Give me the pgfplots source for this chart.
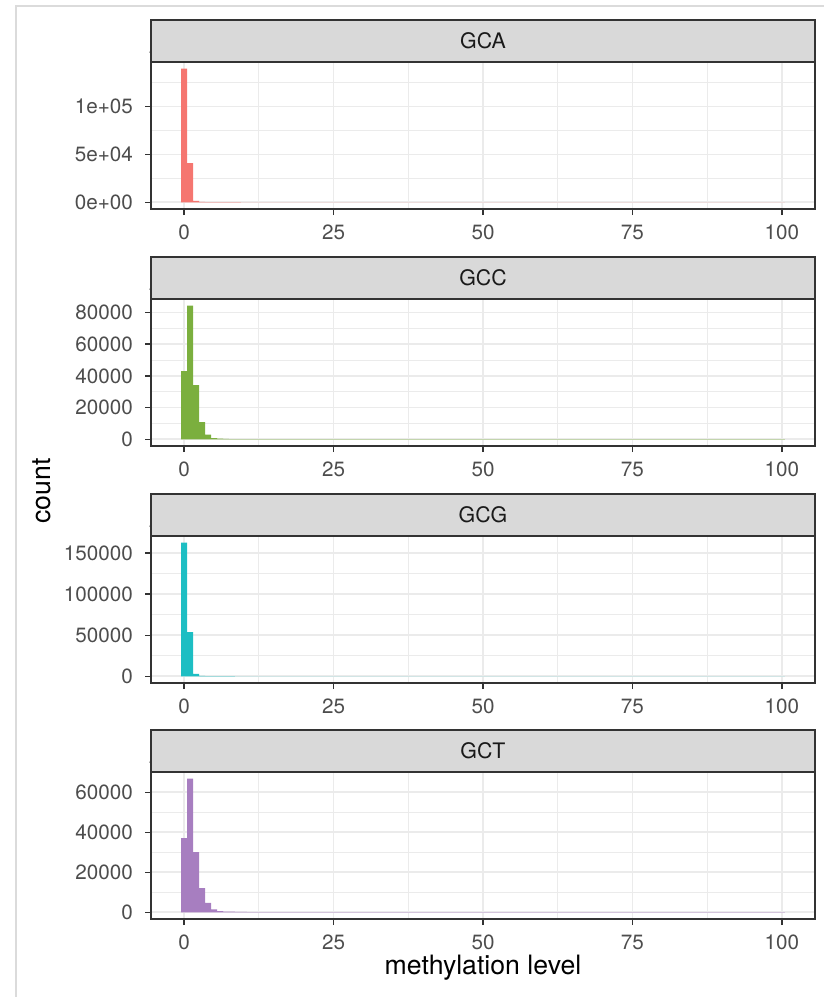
\documentclass[border=0pt]{standalone}
\usepackage{pgfplots}
\pgfplotsset{compat=1.18}
\usepackage{fontspec}
\setmainfont{TeX Gyre Heros}
\definecolor{gcaCol}{HTML}{F57670}
\definecolor{gccCol}{HTML}{7BAF3E}
\definecolor{gcgCol}{HTML}{1DBEC3}
\definecolor{gctCol}{HTML}{A77EC0}
\definecolor{grid92}{HTML}{EBEBEB}
\definecolor{g20}{HTML}{333333}
\definecolor{g30}{HTML}{4D4D4D}
\definecolor{g85}{HTML}{D9D9D9}
\definecolor{g10}{HTML}{1A1A1A}
\tikzset{
  strip/.style={g20, fill=g85, line width=1.1pt},
  striptext/.style={text=g10, font=\fontsize{16}{19}\selectfont},
}
\pgfplotsset{
  facet/.style={
    scale only axis, width=498pt, height=110.25pt,
    xmin=-5.55, xmax=105.55,
    axis line style={g20, line width=1.1pt},
    xtick={0,25,50,75,100}, xticklabels={0,25,50,75,100},
    minor xtick={12.5,37.5,62.5,87.5},
    grid=both,
    major grid style={grid92, line width=1.3pt},
    minor grid style={grid92, line width=0.65pt},
    tick align=outside, tick pos=left,
    major tick length=4.5pt, minor tick length=0pt,
    major tick style={g20, line width=1.1pt},
    tick label style={font=\fontsize{15.5}{18}\selectfont, text=g30},
    yticklabel style={xshift=-5.6pt},
    xticklabel style={yshift=-4.1pt},
    clip=false,
    anchor=south west,
  },
}
\begin{document}
\begin{tikzpicture}
\useasboundingbox (0pt,0pt) rectangle (618pt,-747.75pt);
\draw[gray!28, line width=0.8pt] (12pt,-747.75pt) -- (12pt,-4.5pt) -- (618pt,-4.5pt);

% GCA
\begin{axis}[facet, at={(113.25pt,-156.75pt)},
  ymin=-6975, ymax=146475,
  ytick={0,50000,100000}, yticklabels={0e+00,5e+04,1e+05},
  minor ytick={25000,75000,125000}]
\addplot[ybar interval, fill=gcaCol, draw=none] coordinates {
 (-0.5,139500) (0.5,40900) (1.5,1500) (2.5,500) (3.5,300) (4.5,220)
 (5.5,180) (6.5,150) (7.5,120) (8.5,100) (9.5,60) (100.5,60)};
\draw[strip] (rel axis cs:0,1) rectangle (rel axis cs:1,1.2857);
\node[striptext] at (rel axis cs:0.5,1.1429) {GCA};
\end{axis}

% GCC
\begin{axis}[facet, at={(113.25pt,-334.5pt)},
  ymin=-4215, ymax=88515,
  ytick={0,20000,40000,60000,80000}, yticklabels={0,20000,40000,60000,80000},
  minor ytick={10000,30000,50000,70000}]
\addplot[ybar interval, fill=gccCol, draw=none] coordinates {
 (-0.5,43100) (0.5,84300) (1.5,34200) (2.5,10800) (3.5,3000) (4.5,800)
 (5.5,400) (6.5,250) (7.5,180) (8.5,130) (9.5,100) (10.5,60) (100.5,60)};
\draw[strip] (rel axis cs:0,1) rectangle (rel axis cs:1,1.2857);
\node[striptext] at (rel axis cs:0.5,1.1429) {GCC};
\end{axis}

% GCG
\begin{axis}[facet, at={(113.25pt,-512.25pt)},
  ymin=-8130, ymax=170730,
  ytick={0,50000,100000,150000}, yticklabels={0,50000,100000,150000},
  minor ytick={25000,75000,125000}]
\addplot[ybar interval, fill=gcgCol, draw=none] coordinates {
 (-0.5,162600) (0.5,53900) (1.5,2900) (2.5,600) (3.5,300) (4.5,200)
 (5.5,150) (6.5,120) (7.5,100) (8.5,60) (100.5,60)};
\draw[strip] (rel axis cs:0,1) rectangle (rel axis cs:1,1.2857);
\node[striptext] at (rel axis cs:0.5,1.1429) {GCG};
\end{axis}

% GCT
\begin{axis}[facet, at={(113.25pt,-689.25pt)},
  ymin=-3340, ymax=70140,
  ytick={0,20000,40000,60000}, yticklabels={0,20000,40000,60000},
  minor ytick={10000,30000,50000,70000}]
\addplot[ybar interval, fill=gctCol, draw=none] coordinates {
 (-0.5,37100) (0.5,66800) (1.5,30100) (2.5,12100) (3.5,4700) (4.5,1500)
 (5.5,600) (6.5,400) (7.5,300) (8.5,250) (9.5,200) (10.5,150) (11.5,60) (100.5,60)};
\draw[strip] (rel axis cs:0,1) rectangle (rel axis cs:1,1.2857);
\node[striptext] at (rel axis cs:0.5,1.1429) {GCT};
\end{axis}

\node[font=\fontsize{20}{24}\selectfont, text=black, rotate=90] at (31.5pt,-368.25pt) {count};
\node[font=\fontsize{20}{24}\selectfont, text=black] at (362.25pt,-726pt) {methylation level};
\end{tikzpicture}
\end{document}
